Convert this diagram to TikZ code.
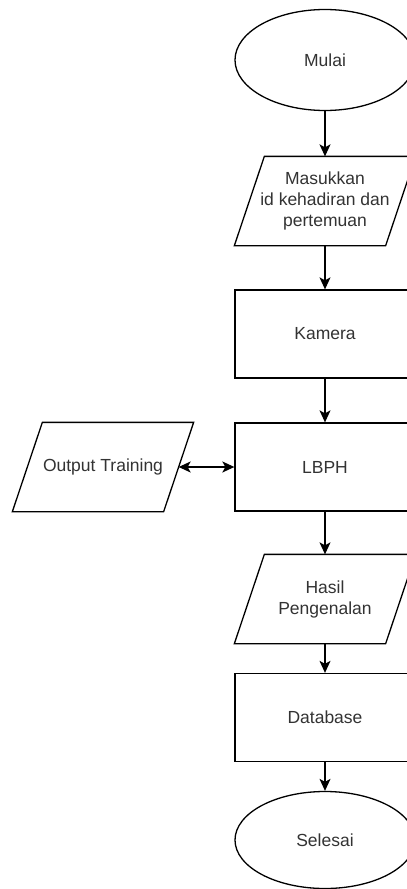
\documentclass[tikz,border=0pt]{standalone}
\usepackage{fontspec}
\setmainfont{Liberation Sans}
\usetikzlibrary{arrows.meta,shapes.geometric}
\definecolor{txt}{RGB}{51,51,51}
\begin{document}
\begin{tikzpicture}[x=1pt,y=-1pt,
  line width=1.3pt,
  every node/.style={font=\fontsize{17.5}{21}\selectfont, text=txt, align=center},
  termbox/.style={ellipse, draw, minimum width=180pt, minimum height=101pt, inner sep=0pt},
  procbox/.style={rectangle, draw, minimum width=180pt, minimum height=88pt, inner sep=0pt},
  iobox/.style={rectangle, minimum width=180pt, minimum height=88pt, inner sep=0pt},
  para/.style={line join=miter},
  flowarrow/.style={-{Stealth[length=12pt,width=11pt,inset=3pt]}},
  bothway/.style={{Stealth[length=12pt,width=11pt,inset=3pt]}-{Stealth[length=12pt,width=11pt,inset=3pt]}}
]
\useasboundingbox (0,0) rectangle (407,889);
\fill[white] (0,0) rectangle (407,889);
\clip (0,0) rectangle (407,889);

\node[termbox] (mulai) at (325,60) {Mulai};
\node[iobox] (masuk) at (325,201) {Masukkan\\id kehadiran dan\\pertemuan};
\node[procbox] (kamera) at (325,334) {Kamera};
\node[procbox] (lbph) at (325,467) {LBPH};
\node[iobox] (outp) at (103,467) {Output Training};
\node[iobox] (hasil) at (325,599) {Hasil\\Pengenalan};
\node[procbox] (db) at (325,717.5) {Database};
\node[termbox, minimum height=97pt] (selesai) at (325,840) {Selesai};

\foreach \n in {masuk,outp,hasil}{
  \draw[para] ([xshift=30pt]\n.north west) -- (\n.north east) -- ([xshift=-30pt]\n.south east) -- (\n.south west) -- cycle;
}
\coordinate (outpR) at ([xshift=-15pt]outp.east);

\draw[flowarrow] (mulai) -- (masuk);
\draw[flowarrow] (masuk) -- (kamera);
\draw[flowarrow] (kamera) -- (lbph);
\draw[bothway] (outpR) -- (lbph.west);
\draw[flowarrow] (lbph) -- (hasil);
\draw[flowarrow] (hasil) -- (db);
\draw[flowarrow] (db) -- (selesai);
\end{tikzpicture}
\end{document}
